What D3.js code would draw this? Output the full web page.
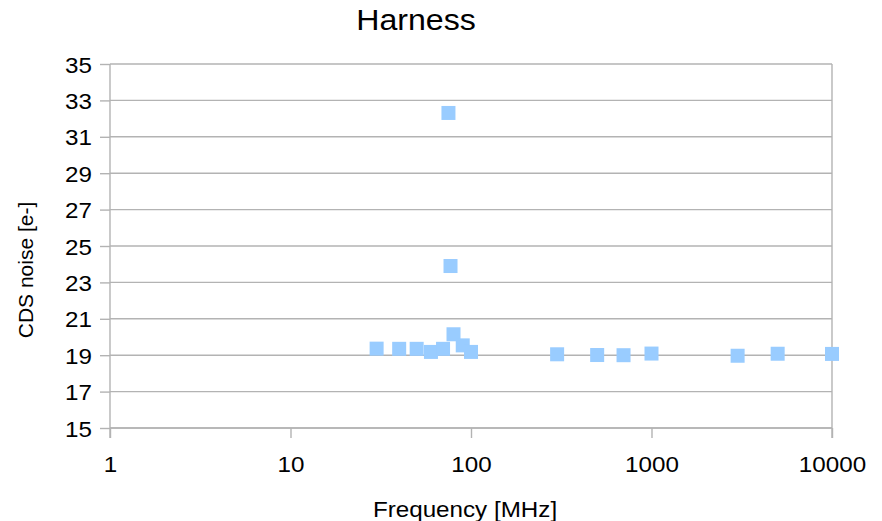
<!DOCTYPE html>
<html>
<head>
<meta charset="utf-8">
<script src="https://cdn.jsdelivr.net/npm/d3@7"></script>
<style>
  html, body { margin: 0; padding: 0; background: #fff; }
  svg { display: block; }
  text { font-family: "Liberation Sans", Arial, sans-serif; fill: #000; }
</style>
</head>
<body>
<svg id="chart" width="882" height="521"></svg>
<script>
// ---- data ----
const chartTitle = "Harness";
const xAxisTitle = "Frequency [MHz]";
const yAxisTitle = "CDS noise [e-]";
const frequencies = [30, 40, 50, 60, 70, 75, 77, 80, 90, 100, 300, 500, 700, 1000, 3000, 5000, 10000];
const noise = [19.36, 19.35, 19.35, 19.18, 19.35, 32.31, 23.9, 20.15, 19.54, 19.18, 19.05, 19.01, 19.0, 19.09, 18.97, 19.08, 19.07];
const xTicks = [1, 10, 100, 1000, 10000];
const yTicks = [15, 17, 19, 21, 23, 25, 27, 29, 31, 33, 35];

// ---- layout ----
const svg = d3.select("#chart");
const pLeft = 110, pRight = 832, pTop = 64, pBottom = 428;
const tickLen = 10;
const gridColor = "#b3b3b3";
const stretch = 1.1;

const x = d3.scaleLog().domain([1, 10000]).range([pLeft, pRight]);
const y = d3.scaleLinear().domain([15, 35]).range([pBottom, pTop]);

function widen(sel, k) {
  sel.each(function () {
    const w = this.getComputedTextLength();
    d3.select(this).attr("textLength", w * k).attr("lengthAdjust", "spacingAndGlyphs");
  });
}

// gridlines
svg.append("g").selectAll("line").data(yTicks).join("line")
  .attr("x1", pLeft).attr("x2", pRight)
  .attr("y1", d => y(d)).attr("y2", d => y(d))
  .attr("stroke", gridColor).attr("stroke-width", 1.4);

// right border line
svg.append("line")
  .attr("x1", pRight).attr("x2", pRight)
  .attr("y1", pTop).attr("y2", pBottom + tickLen)
  .attr("stroke", gridColor).attr("stroke-width", 1.4);

// y axis
const yAxis = svg.append("g").attr("transform", `translate(${pLeft},0)`)
  .call(d3.axisLeft(y).tickValues(yTicks).tickSize(tickLen).tickSizeOuter(0).tickFormat(d3.format("d")));
yAxis.select(".domain").remove();
yAxis.selectAll(".tick line").attr("stroke", gridColor).attr("stroke-width", 1.4);
yAxis.selectAll(".tick text")
  .attr("x", -18).attr("dy", null).attr("y", 8)
  .style("font-size", "22px").attr("fill", "#000");
widen(yAxis.selectAll(".tick text"), stretch);

svg.append("line")
  .attr("x1", pLeft).attr("x2", pLeft)
  .attr("y1", pTop).attr("y2", pBottom + tickLen)
  .attr("stroke", gridColor).attr("stroke-width", 1.4);

// x axis
const xAxis = svg.append("g").attr("transform", `translate(0,${pBottom})`)
  .call(d3.axisBottom(x).tickValues(xTicks).tickSize(tickLen).tickSizeOuter(0).tickFormat(d3.format("d")));
xAxis.select(".domain").remove();
xAxis.selectAll(".tick line").attr("stroke", gridColor).attr("stroke-width", 1.4);
xAxis.selectAll(".tick text")
  .attr("y", 44).attr("dy", null)
  .style("font-size", "22px").attr("fill", "#000");
widen(xAxis.selectAll(".tick text"), stretch);

svg.append("line")
  .attr("x1", pLeft).attr("x2", pRight)
  .attr("y1", pBottom).attr("y2", pBottom)
  .attr("stroke", gridColor).attr("stroke-width", 1.4);

// points
const ms = 14;
svg.append("g").selectAll("rect").data(frequencies).join("rect")
  .attr("x", (d) => x(d) - ms / 2)
  .attr("y", (d, i) => y(noise[i]) - ms / 2)
  .attr("width", ms).attr("height", ms)
  .attr("fill", "#99ccff");

// titles
const t = svg.append("text").attr("x", 416).attr("y", 30)
  .attr("text-anchor", "middle").style("font-size", "30px").text(chartTitle);
widen(t, 1.07);

const xt = svg.append("text").attr("x", 465).attr("y", 517)
  .attr("text-anchor", "middle").style("font-size", "22px").text(xAxisTitle);
widen(xt, stretch);

svg.append("text")
  .attr("transform", `translate(33,270) rotate(-90)`)
  .attr("text-anchor", "middle").style("font-size", "21px").text(yAxisTitle);
</script>
</body>
</html>
